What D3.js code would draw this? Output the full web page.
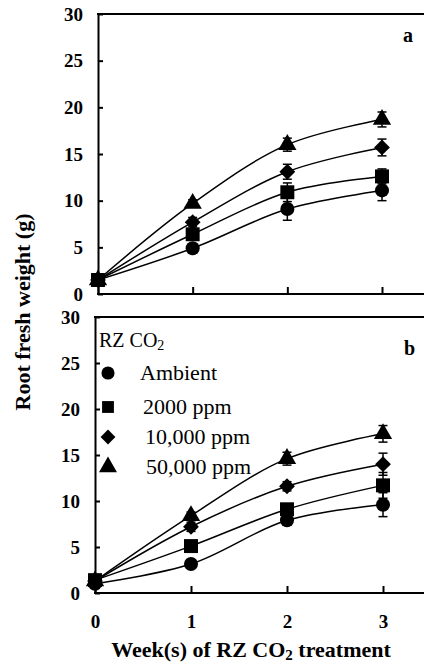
<!DOCTYPE html>
<html>
<head>
<meta charset="utf-8">
<script src="https://cdn.jsdelivr.net/npm/d3@7"></script>
<style>
  body { margin: 0; background: #fff; }
  svg { display: block; }
  svg text { font-family: "Liberation Serif", "DejaVu Serif", serif !important; fill: #000; }
  .tick text { font-weight: bold; font-size: 19px; }
  .tick line, .domain { stroke: #000; stroke-width: 2px; }
</style>
</head>
<body>
<script>
//weeks of treatment and series names
var weeks = [0, 1, 2, 3];
var seriesNames = ["Ambient", "2000 ppm", "10,000 ppm", "50,000 ppm"];
var symbolNames = ["circle", "square", "diamond", "triangle"];
var yTicks = [0, 5, 10, 15, 20, 25, 30];

//panel a: mean root fresh weight (g)
var aAmbient = [1.5, 4.9, 9.1, 11.1];
var a2000 = [1.5, 6.4, 10.9, 12.6];
var a10000 = [1.5, 7.7, 13.1, 15.7];
var a50000 = [1.5, 9.7, 16.0, 18.7];
//panel a: standard errors
var aAmbientErr = [0.1, 0.4, 1.2, 1.1];
var a2000Err = [0.1, 0.5, 1.0, 0.8];
var a10000Err = [0.1, 0.5, 0.8, 0.9];
var a50000Err = [0.1, 0.4, 0.7, 0.8];

//panel b: mean root fresh weight (g)
var bAmbient = [1.0, 3.15, 7.9, 9.6];
var b2000 = [1.4, 5.1, 9.1, 11.7];
var b10000 = [1.3, 7.2, 11.6, 14.0];
var b50000 = [1.3, 8.4, 14.6, 17.3];
//panel b: standard errors
var bAmbientErr = [0.1, 0.3, 0.5, 1.3];
var b2000Err = [0.1, 0.4, 0.6, 1.4];
var b10000Err = [0.1, 0.5, 0.5, 1.2];
var b50000Err = [0.1, 0.4, 0.7, 0.9];

var width = 424, height = 666;
var serif = "'Liberation Serif', 'DejaVu Serif', serif";

var svg = d3.select("body")
    .append("svg")
    .attr("width", width)
    .attr("height", height)
    .attr("font-family", serif);

//marker path generator (legend markers a bit smaller)
function marker(name, legend){
    if (name == "circle") return d3.symbol().type(d3.symbolCircle).size(legend ? 135 : 155)();
    if (name == "square") return d3.symbol().type(d3.symbolSquare).size(legend ? 140 : 195)();
    if (name == "diamond") return d3.symbol().type(d3.symbolSquare).size(legend ? 110 : 125)();
    return d3.symbol().type(d3.symbolTriangle).size(legend ? 140 : 145)();
}

function drawPanel(p){
    var x = d3.scaleLinear().domain([0, 3]).range([p.left, p.right]);
    var y = d3.scaleLinear().domain([0, 30]).range([p.bottom, p.top]);

    var g = svg.append("g").attr("class", "panel");

    //top border
    g.append("line")
        .attr("x1", p.left - 1).attr("x2", width + 5)
        .attr("y1", p.top).attr("y2", p.top)
        .attr("stroke", "#000").attr("stroke-width", 2);

    //y axis, ticks pointing inward
    var yAxis = g.append("g")
        .attr("transform", "translate(" + p.left + ",0)")
        .call(d3.axisLeft(y).tickValues(yTicks).tickSizeInner(-5).tickSizeOuter(0).tickPadding(15));
    yAxis.attr("font-family", serif);

    //x axis
    var xAxis = g.append("g")
        .attr("transform", "translate(0," + p.bottom + ")")
        .call(d3.axisBottom(x).tickValues(weeks).tickSizeInner(-7).tickSizeOuter(0)
            .tickPadding(p.xLabels ? 22 : 0)
            .tickFormat(p.xLabels ? d3.format("d") : function(){ return ""; }));
    xAxis.attr("font-family", serif);
    xAxis.select(".domain").attr("d", "M" + (p.left - 1) + ",0H" + (width + 5));

    var line = d3.line()
        .x(function(d, i){ return x(weeks[i]); })
        .y(function(d){ return y(d); })
        .curve(d3.curveCatmullRom.alpha(0.5));

    //lines
    g.selectAll(".series")
        .data(p.means)
        .enter()
        .append("path")
        .attr("class", "series")
        .attr("d", line)
        .attr("fill", "none")
        .attr("stroke", "#000")
        .attr("stroke-width", 1.5);

    //error bars
    p.means.forEach(function(m, s){
        m.forEach(function(v, i){
            var e = p.errs[s][i];
            var cx = x(weeks[i]);
            var eb = g.append("g").attr("stroke", "#000").attr("stroke-width", 1.5);
            eb.append("line").attr("x1", cx).attr("x2", cx).attr("y1", y(v - e)).attr("y2", y(v + e));
            eb.append("line").attr("x1", cx - 4.5).attr("x2", cx + 4.5).attr("y1", y(v - e)).attr("y2", y(v - e));
            eb.append("line").attr("x1", cx - 4.5).attr("x2", cx + 4.5).attr("y1", y(v + e)).attr("y2", y(v + e));
        });
    });

    //markers, square drawn last so it sits on top at week 0
    [0, 2, 3, 1].forEach(function(s){
        g.selectAll(".m" + s)
            .data(p.means[s])
            .enter()
            .append("path")
            .attr("class", "m" + s)
            .attr("d", marker(symbolNames[s]))
            .attr("transform", function(d, i){
                return "translate(" + x(weeks[i]) + "," + y(d) + ")" + (symbolNames[s] == "diamond" ? " rotate(45)" : "");
            })
            .attr("fill", "#000");
    });

    //panel letter
    g.append("text")
        .attr("x", p.letterX)
        .attr("y", p.letterY)
        .attr("font-weight", "bold")
        .attr("font-size", 20)
        .text(p.letter);
}

drawPanel({
    left: 98, right: 382, top: 14, bottom: 294,
    means: [aAmbient, a2000, a10000, a50000],
    errs: [aAmbientErr, a2000Err, a10000Err, a50000Err],
    xLabels: false, letter: "a", letterX: 403, letterY: 42
});

drawPanel({
    left: 95, right: 383, top: 317, bottom: 593,
    means: [bAmbient, b2000, b10000, b50000],
    errs: [bAmbientErr, b2000Err, b10000Err, b50000Err],
    xLabels: true, letter: "b", letterX: 404, letterY: 355
});

//legend inside panel b
var legend = svg.append("g").attr("class", "legend");
var title = legend.append("text").attr("x", 99).attr("y", 347).attr("font-size", 20);
title.append("tspan").text("RZ CO");
title.append("tspan").attr("font-size", 14).attr("dy", 3).text("2");

var legendRows = [373, 407, 437, 467];
var legendTextX = [140, 143, 145, 146];
seriesNames.forEach(function(name, s){
    legend.append("path")
        .attr("d", marker(symbolNames[s], true))
        .attr("transform", "translate(108," + legendRows[s] + ")" + (symbolNames[s] == "diamond" ? " rotate(45)" : ""))
        .attr("fill", "#000");
    legend.append("text")
        .attr("x", legendTextX[s])
        .attr("y", legendRows[s] + 7)
        .attr("font-size", 22)
        .text(name);
});

//x axis title
var xTitle = svg.append("text")
    .attr("x", 251)
    .attr("y", 657)
    .attr("text-anchor", "middle")
    .attr("font-weight", "bold")
    .attr("font-size", 22);
xTitle.append("tspan").text("Week(s) of RZ CO");
xTitle.append("tspan").attr("font-size", 15).attr("dy", 3).text("2");
xTitle.append("tspan").attr("dy", -3).text(" treatment");

//y axis title
svg.append("text")
    .attr("transform", "translate(30,312) rotate(-90)")
    .attr("text-anchor", "middle")
    .attr("font-weight", "bold")
    .attr("font-size", 22)
    .text("Root fresh weight (g)");
</script>
</body>
</html>
